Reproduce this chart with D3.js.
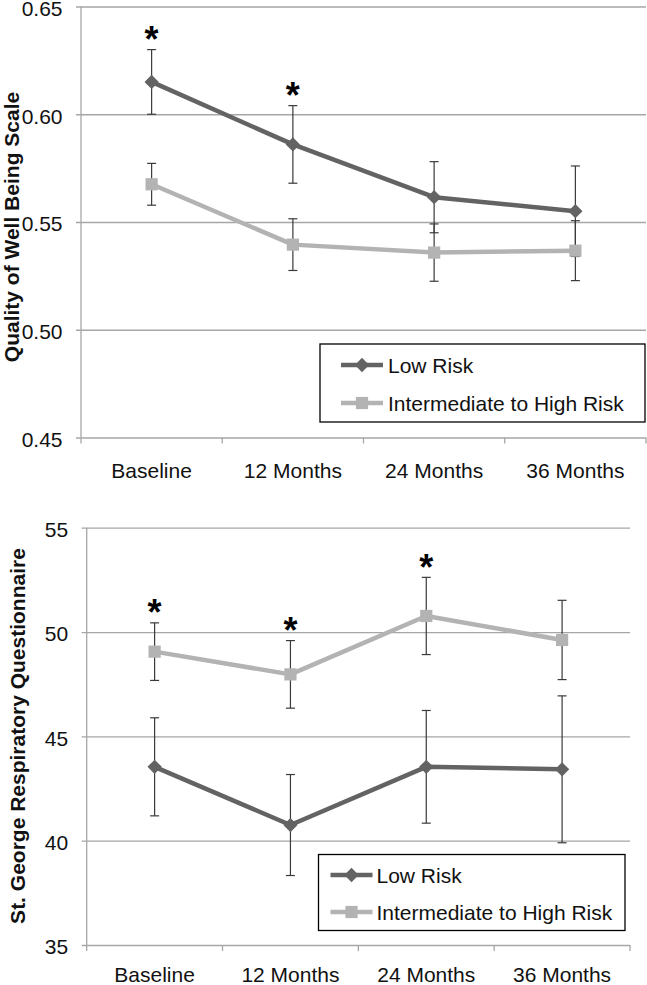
<!DOCTYPE html>
<html>
<head>
<meta charset="utf-8">
<script src="https://cdn.jsdelivr.net/npm/d3@7"></script>
<style>
  html, body { margin: 0; padding: 0; background: #fff; }
  svg { display: block; font-family: "Liberation Sans", Arial, sans-serif; }
</style>
</head>
<body>
<svg id="chart" width="647" height="985"></svg>
<script>
// ---------------- data ----------------
const categories = ["Baseline", "12 Months", "24 Months", "36 Months"];
const seriesNames = ["Low Risk", "Intermediate to High Risk"];

// Quality of Well Being Scale
const qwbTicks = [0.45, 0.50, 0.55, 0.60, 0.65];
const qwbLow = [0.615, 0.586, 0.5615, 0.555];
const qwbLowErr = [0.015, 0.018, 0.0165, 0.021];
const qwbHigh = [0.5675, 0.5395, 0.5358, 0.5367];
const qwbHighErr = [0.0097, 0.012, 0.0133, 0.0139];
const qwbSignificant = [true, true, false, false];

// St. George Respiratory Questionnaire
const sgrqTicks = [35, 40, 45, 50, 55];
const sgrqLow = [43.54, 40.75, 43.54, 43.42];
const sgrqLowErr = [2.35, 2.42, 2.7, 3.52];
const sgrqHigh = [49.06, 47.97, 50.77, 49.62];
const sgrqHighErr = [1.38, 1.62, 1.85, 1.9];
const sgrqSignificant = [true, true, true, false];

// ---------------- styles ----------------
const DARK = "#636363";
const LIGHT = "#b3b3b3";
const GRID = "#a6a6a6";
const ERR = "#3a3a3a";
const FS = 21;

const svg = d3.select("#chart");

function panel(cfg) {
  const g = svg.append("g");
  const x = d3.scaleBand().domain(categories).range([cfg.left, cfg.right]);
  const y = d3.scaleLinear().domain([cfg.ticks[0], cfg.ticks[cfg.ticks.length - 1]]).range([cfg.bottom, cfg.top]);
  const cx = d => x(d) + x.bandwidth() / 2;

  // gridlines (y axis with long ticks)
  const yAxis = d3.axisLeft(y).tickValues(cfg.ticks).tickFormat(cfg.fmt)
    .tickSize(-(cfg.right - cfg.left)).tickPadding(18.5);
  const ya = g.append("g").attr("transform", `translate(${cfg.left},0)`).call(yAxis);
  ya.select(".domain").remove();
  ya.selectAll(".tick line").attr("stroke", GRID).attr("stroke-width", 1.3).attr("x1", -5);
  ya.selectAll(".tick text").attr("font-size", FS).attr("fill", "#111").attr("dy", "0.42em")
    .attr("font-family", "'Liberation Sans', Arial, sans-serif");

  // vertical axis line
  g.append("line").attr("x1", cfg.left).attr("x2", cfg.left)
    .attr("y1", cfg.top).attr("y2", cfg.bottom).attr("stroke", GRID).attr("stroke-width", 1.3);

  // x axis: tick marks at category boundaries, labels
  const bounds = categories.map(c => x(c)).concat([cfg.right]);
  g.selectAll("line.xtick").data(bounds).join("line").attr("class", "xtick")
    .attr("x1", d => d).attr("x2", d => d).attr("y1", cfg.bottom).attr("y2", cfg.bottom + 6)
    .attr("stroke", GRID).attr("stroke-width", 1.3);
  g.selectAll("text.xlab").data(categories).join("text").attr("class", "xlab")
    .attr("x", d => cx(d)).attr("y", cfg.bottom + cfg.labelOffset)
    .attr("text-anchor", "middle").attr("font-size", FS).attr("fill", "#111").text(d => d);

  // y title
  g.append("text")
    .attr("transform", `translate(${cfg.titleX},${cfg.titleY}) rotate(-90)`)
    .attr("text-anchor", "middle").attr("font-size", 21).attr("font-weight", "bold")
    .attr("fill", "#111").text(cfg.title);

  const series = [
    { vals: cfg.low, err: cfg.lowErr, color: DARK, shape: d3.symbolDiamond2, size: 130 },
    { vals: cfg.high, err: cfg.highErr, color: LIGHT, shape: d3.symbolSquare2, size: 190 }
  ];

  // error bars
  series.forEach(s => {
    const eg = g.append("g");
    categories.forEach((c, i) => {
      const x0 = cx(c), yt = y(s.vals[i] + s.err[i]), yb = y(s.vals[i] - s.err[i]);
      eg.append("line").attr("x1", x0).attr("x2", x0).attr("y1", yt).attr("y2", yb)
        .attr("stroke", ERR).attr("stroke-width", 1.2);
      [yt, yb].forEach(yy => eg.append("line").attr("x1", x0 - 4.5).attr("x2", x0 + 4.5)
        .attr("y1", yy).attr("y2", yy).attr("stroke", ERR).attr("stroke-width", 1.2));
    });
  });

  // lines + markers
  const line = d3.line().x((d, i) => cx(categories[i])).y(d => y(d));
  series.forEach(s => {
    g.append("path").datum(s.vals).attr("d", line).attr("fill", "none")
      .attr("stroke", s.color).attr("stroke-width", 4.5).attr("stroke-linejoin", "round");
  });
  series.forEach(s => {
    g.selectAll(null).data(s.vals).join("path")
      .attr("transform", (d, i) => `translate(${cx(categories[i])},${y(d)})`)
      .attr("d", d3.symbol().type(s.shape).size(s.size)).attr("fill", s.color);
  });

  // significance asterisks
  const sigSeries = series[cfg.sigOn];
  g.selectAll("text.sig").data(categories.filter((c, i) => cfg.sig[i])).join("text")
    .attr("class", "sig")
    .attr("x", d => cx(d))
    .attr("y", d => { const i = categories.indexOf(d); return y(sigSeries.vals[i] + sigSeries.err[i]) + 2.5; })
    .attr("text-anchor", "middle").attr("font-size", 36).attr("font-weight", "bold")
    .attr("fill", "#000").text("*");

  // legend
  const L = cfg.legend;
  const lg = g.append("g");
  lg.append("rect").attr("x", L.x).attr("y", L.y).attr("width", L.w).attr("height", L.h)
    .attr("fill", "#fff").attr("stroke", "#000").attr("stroke-width", 1.3);
  series.forEach((s, i) => {
    const yy = L.y + L.row0 + i * L.dy;
    lg.append("line").attr("x1", L.lineX).attr("x2", L.lineX + 42).attr("y1", yy).attr("y2", yy)
      .attr("stroke", s.color).attr("stroke-width", 4.5);
    lg.append("path").attr("transform", `translate(${L.lineX + 21},${yy})`)
      .attr("d", d3.symbol().type(s.shape).size(s.size)).attr("fill", s.color);
    lg.append("text").attr("x", L.lineX + L.textGap).attr("y", yy + 7.7).attr("font-size", FS)
      .attr("fill", "#111").text(seriesNames[i]);
  });
}

panel({
  left: 81, right: 646, top: 6.5, bottom: 437.5,
  ticks: qwbTicks, fmt: d3.format(".2f"),
  low: qwbLow, lowErr: qwbLowErr, high: qwbHigh, highErr: qwbHighErr,
  sig: qwbSignificant, sigOn: 0,
  title: "Quality of Well Being Scale", titleX: 18.5, titleY: 227, labelOffset: 40.5,
  legend: { x: 320, y: 344, w: 325, h: 78, row0: 21, dy: 38, lineX: 341, textGap: 47 }
});

panel({
  left: 86.7, right: 630, top: 527.7, bottom: 945,
  ticks: sgrqTicks, fmt: d3.format("d"),
  low: sgrqLow, lowErr: sgrqLowErr, high: sgrqHigh, highErr: sgrqHighErr,
  sig: sgrqSignificant, sigOn: 1,
  title: "St. George Respiratory Questionnaire", titleX: 25, titleY: 736, labelOffset: 37,
  legend: { x: 318.5, y: 854.5, w: 306.5, h: 76, row0: 20.5, dy: 37, lineX: 330.5, textGap: 46 }
});
</script>
</body>
</html>
